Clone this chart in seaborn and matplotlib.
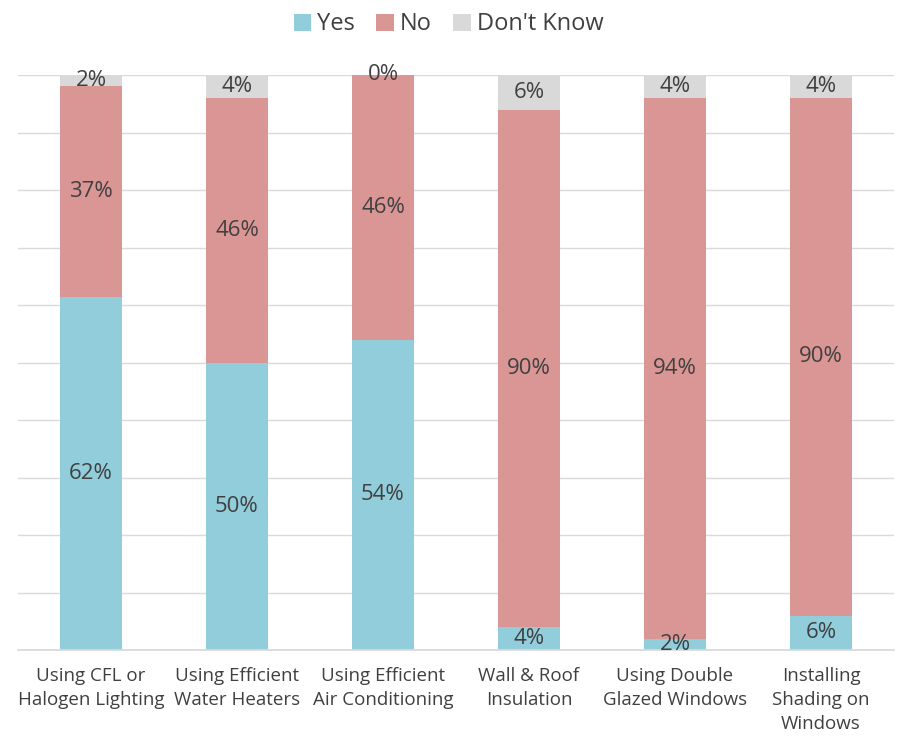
import numpy as np
import pandas as pd
import matplotlib
matplotlib.use("Agg")
import matplotlib.pyplot as plt
import seaborn as sns

categories = ['Using CFL or\nHalogen Lighting', 'Using Efficient\nWater Heaters',
              'Using Efficient\nAir Conditioning', 'Wall & Roof\nInsulation',
              'Using Double\nGlazed Windows', 'Installing\nShading on\nWindows']
yes_vals = [62, 50, 54, 4, 2, 6]
no_vals = [37, 46, 46, 90, 94, 90]
dk_vals = [2, 4, 0, 6, 4, 4]
series = ['Yes', 'No', "Don't Know"]
colors = {'Yes': '#92CDDC', 'No': '#DA9694', "Don't Know": '#D9D9D9'}

sns.set_theme(style='white')
plt.rcParams['font.family'] = ['Open Sans', 'DejaVu Sans']
text_color = '#404040'

df = pd.DataFrame({'category': categories, 'Yes': yes_vals, 'No': no_vals, "Don't Know": dk_vals})
totals = df[series].sum(axis=1)
# 100% stacked: each bar normalised to its own total
for s in series:
    df[s + '_pct'] = df[s] / totals * 100

fig = plt.figure(figsize=(8.97, 7.39), dpi=100)
ax = fig.add_axes([18 / 897, 89 / 739, 876 / 897, 575 / 739])

bottom = np.zeros(len(df))
for s in series:
    sns.barplot(x='category', y=s + '_pct', data=df, color=colors[s], bottom=bottom,
                width=0.42, ax=ax, label=s, saturation=1, linewidth=0)
    for i, (b, h, v) in enumerate(zip(bottom, df[s + '_pct'], df[s])):
        ax.text(i, b + h / 2, f'{v}%', ha='center', va='center', fontsize=16,
                color=text_color)
    bottom = bottom + df[s + '_pct'].values

ax.set_ylim(0, 100)
ax.set_xlim(-0.5, len(df) - 0.5)
ax.set_yticks(np.arange(0, 101, 10))
ax.set_yticklabels([])
ax.yaxis.grid(True, color='#D9D9D9', linewidth=1)
ax.set_axisbelow(True)
ax.tick_params(axis='y', length=0)
ax.tick_params(axis='x', length=0, labelsize=13.5, labelcolor=text_color, pad=12)
for lbl in ax.get_xticklabels():
    lbl.set_linespacing(1.45)
ax.set_xlabel('')
ax.set_ylabel('')
for side in ['top', 'left', 'right']:
    ax.spines[side].set_visible(False)
ax.spines['bottom'].set_color('#D9D9D9')

handles, labels = ax.get_legend_handles_labels()
if ax.get_legend() is not None:
    ax.get_legend().remove()
fig.legend(handles, labels, loc='upper center', bbox_to_anchor=(0.5, 1.012), ncol=3,
           frameon=False, fontsize=17, handlelength=0.75, handleheight=0.75,
           handletextpad=0.25, columnspacing=0.9, labelcolor=text_color)

fig.savefig('out.png', dpi=100)
